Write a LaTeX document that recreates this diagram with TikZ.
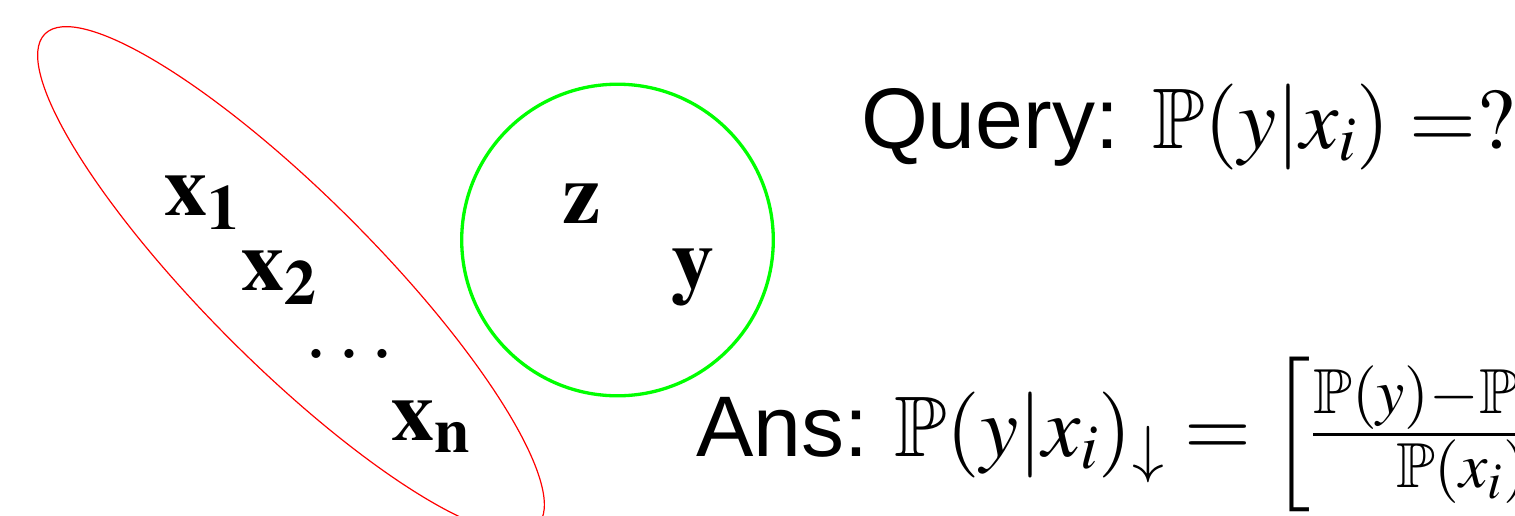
\documentclass[tikz,border=0pt]{standalone}
\usepackage{amssymb}
\usepackage{mathptmx}
\usepackage[no-math]{fontspec}
\setmainfont{Liberation Sans}
\begin{document}
\begin{tikzpicture}[x=0.5pt,y=-0.5pt,
  every node/.style={inner sep=0pt, outer sep=0pt, anchor=base west, font=\fontsize{43}{50}\selectfont},
  setring/.style={draw=red, line width=0.6pt},
  groupring/.style={draw=green, line width=1.65pt}]
\useasboundingbox (0,0) rectangle (1515,515);
\clip (0,0) rectangle (1515,515);
\coordinate (ec) at (291,280);
\draw[setring, rotate around={-45:(ec)}] (ec) ellipse [x radius=174pt, y radius=42.5pt];
\coordinate (cc) at (617.5,240);
\draw[groupring] (cc) circle [radius=77.9pt];
\node (x1) at (164,215) {$\mathbf{x_1}$};
\node (x2) at (241,290) {$\mathbf{x_2}$};
\node (dots) at (304,358) {$\ldots$};
\node (xn) at (391,440) {$\mathbf{x_n}$};
\node (z) at (562,223) {$\mathbf{z}$};
\node (y) at (671,288) {$\mathbf{y}$};
\node (q) at (861,148) {Query:\hspace{16.5pt}$\mathbb{P}(y|x_i) =?$};
\node (a) at (696,456) {Ans:\hspace{13pt}$\mathbb{P}(y|x_i)_\downarrow = \left[\frac{\mathbb{P}(y)-\mathbb{P}(x_i)}{\mathbb{P}(x_i)}\right]$};
\end{tikzpicture}
\end{document}
